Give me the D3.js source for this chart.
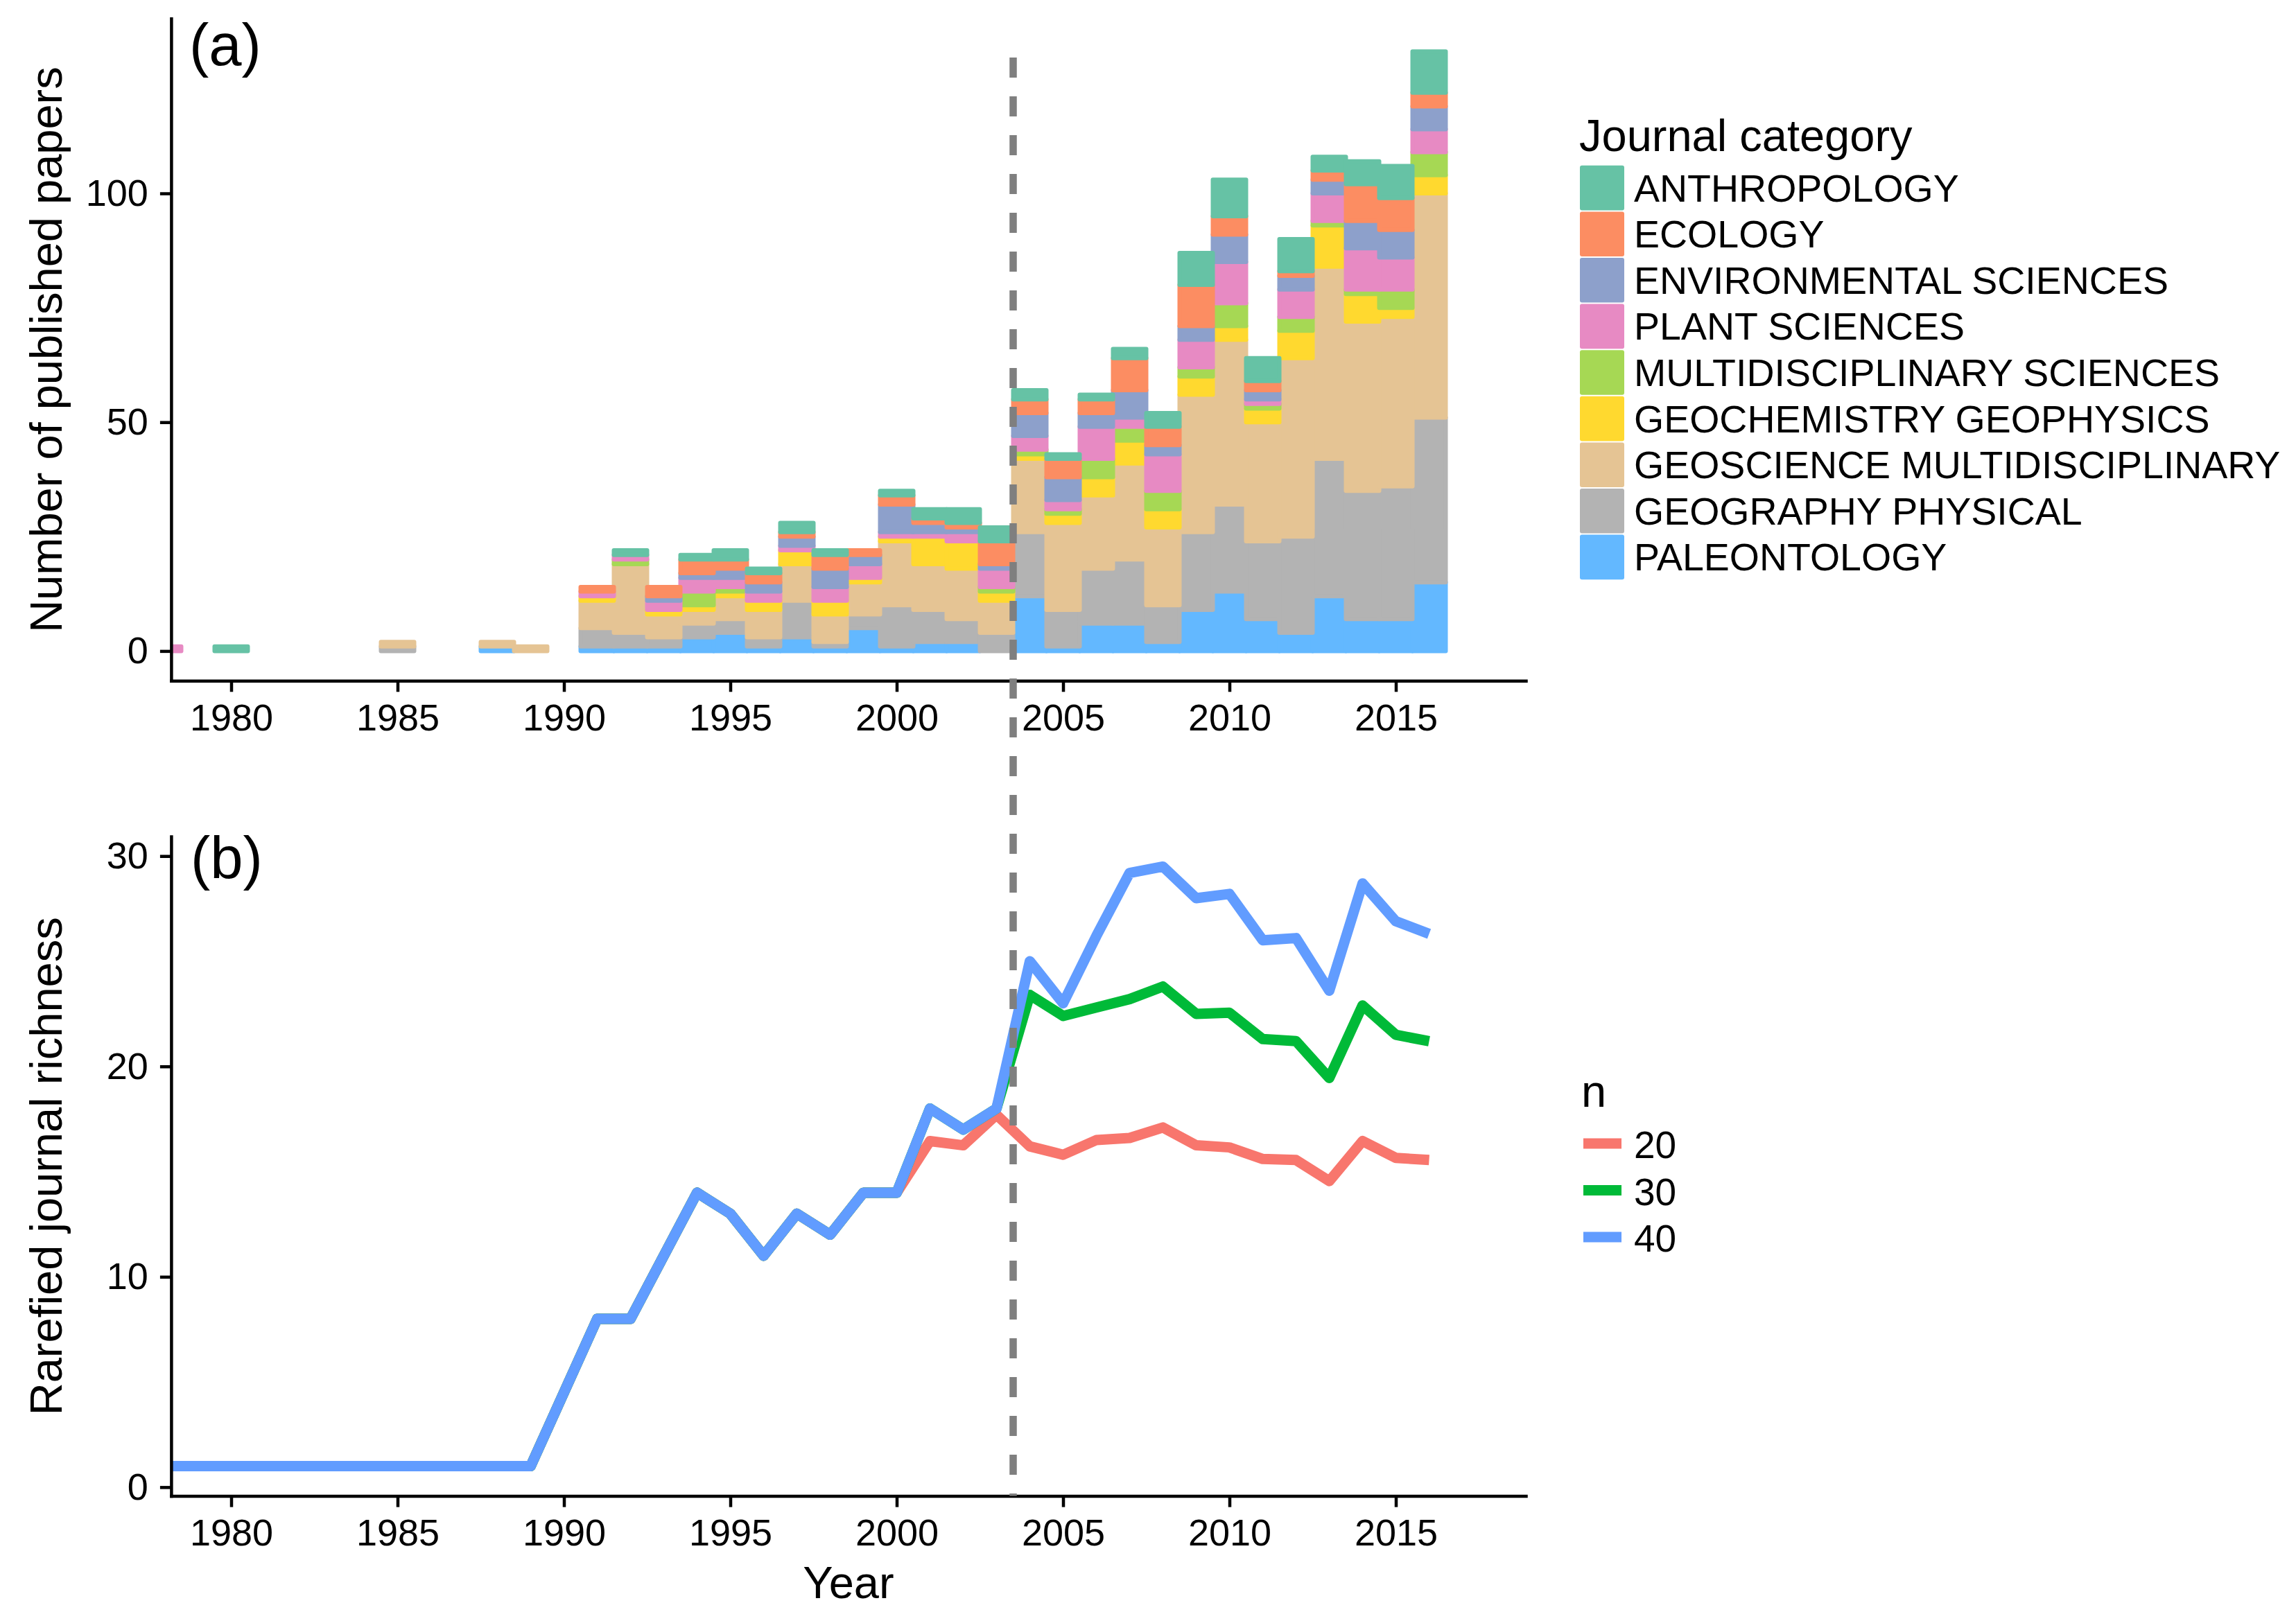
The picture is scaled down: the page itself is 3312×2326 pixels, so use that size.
<!DOCTYPE html>
<head>
  <meta charset="utf-8">
  <script src="https://cdnjs.cloudflare.com/ajax/libs/d3/7.8.5/d3.min.js"></script>
  <style>
    body { margin: 0; background: #fff; }
    text { font-family: "Liberation Sans", Arial, Helvetica, sans-serif; fill: #000; }
  </style>
</head>
<body>

<svg width="3312" height="2326"></svg>

<script type="text/javascript">
// ---- data (panel a: papers per year and journal category) ----
var barYears = [1978, 1980, 1985, 1988, 1989, 1991, 1992, 1993, 1994, 1995, 1996, 1997, 1998, 1999, 2000,
                2001, 2002, 2003, 2004, 2005, 2006, 2007, 2008, 2009, 2010, 2011, 2012, 2013, 2014, 2015, 2016];

var paleontology  = [0, 0, 0, 1, 0, 1, 1, 1, 3, 4, 1, 3, 1, 5, 1, 2, 2, 0, 12, 1, 6, 6, 2, 9, 13, 7, 4, 12, 7, 7, 15];
var geographyPhys = [0, 0, 1, 0, 0, 4, 3, 2, 3, 3, 2, 8, 1, 3, 9, 7, 5, 4, 14, 8, 12, 14, 8, 17, 19, 17, 21, 30, 28, 29, 36];
var geoscienceMul = [0, 0, 1, 1, 1, 6, 15, 5, 3, 5, 6, 8, 6, 7, 14, 10, 11, 7, 16, 19, 16, 21, 17, 30, 36, 26, 39, 42, 37, 37, 49];
var geochemistry  = [0, 0, 0, 0, 0, 1, 0, 1, 1, 1, 2, 3, 3, 1, 1, 6, 6, 2, 1, 2, 4, 5, 4, 4, 3, 3, 6, 9, 6, 2, 4];
var multidiscSci  = [0, 0, 0, 0, 0, 0, 1, 0, 3, 1, 0, 0, 0, 0, 0, 0, 0, 1, 1, 1, 4, 3, 4, 2, 5, 1, 3, 1, 1, 4, 5];
var plantSci      = [1, 0, 0, 0, 0, 1, 1, 2, 3, 2, 2, 1, 3, 3, 1, 1, 2, 4, 3, 2, 7, 2, 8, 6, 9, 1, 6, 6, 9, 7, 5];
var environSci    = [0, 0, 0, 0, 0, 0, 0, 1, 1, 2, 2, 2, 4, 2, 6, 2, 1, 1, 5, 5, 3, 6, 2, 3, 6, 2, 3, 3, 6, 6, 5];
var ecology       = [0, 0, 0, 0, 0, 1, 0, 2, 3, 2, 2, 1, 3, 1, 2, 1, 1, 5, 3, 4, 3, 7, 4, 9, 4, 2, 1, 2, 8, 7, 3];
var anthropology  = [0, 1, 0, 0, 0, 0, 1, 0, 1, 2, 1, 2, 1, 0, 1, 2, 3, 3, 2, 1, 1, 2, 3, 7, 8, 5, 7, 3, 5, 7, 9];

// legend order (top of stack first)
var categories = ["ANTHROPOLOGY", "ECOLOGY", "ENVIRONMENTAL SCIENCES", "PLANT SCIENCES",
                  "MULTIDISCIPLINARY SCIENCES", "GEOCHEMISTRY GEOPHYSICS",
                  "GEOSCIENCE MULTIDISCIPLINARY", "GEOGRAPHY PHYSICAL", "PALEONTOLOGY"];
var categoryColors = ["#66C2A5", "#FC8D62", "#8DA0CB", "#E78AC3", "#A6D854", "#FFD92F",
                      "#E5C494", "#B3B3B3", "#63B8FF"];
var categoryValues = [anthropology, ecology, environSci, plantSci, multidiscSci, geochemistry,
                      geoscienceMul, geographyPhys, paleontology];

// ---- data (panel b: rarefied journal richness) ----
var lineYears = [1978, 1979, 1980, 1981, 1982, 1983, 1984, 1985, 1986, 1987, 1988, 1989, 1991, 1992,
                 1994, 1995, 1996, 1997, 1998, 1999, 2000, 2001, 2002, 2003, 2004, 2005, 2006, 2007,
                 2008, 2009, 2010, 2011, 2012, 2013, 2014, 2015, 2016];
var rich20 = [1, 1, 1, 1, 1, 1, 1, 1, 1, 1, 1, 1, 8, 8, 14, 13, 11, 13, 12, 14, 14,
              16.45, 16.25, 17.7, 16.2, 15.8, 16.5, 16.6, 17.1, 16.25, 16.15, 15.6, 15.55, 14.55, 16.45, 15.65, 15.55];
var rich30 = [1, 1, 1, 1, 1, 1, 1, 1, 1, 1, 1, 1, 8, 8, 14, 13, 11, 13, 12, 14, 14,
              18, 17, 18, 23.4, 22.4, 22.8, 23.2, 23.8, 22.5, 22.55, 21.3, 21.2, 19.45, 22.9, 21.5, 21.2];
var rich40 = [1, 1, 1, 1, 1, 1, 1, 1, 1, 1, 1, 1, 8, 8, 14, 13, 11, 13, 12, 14, 14,
              18, 17, 18, 25, 23, 26.2, 29.2, 29.5, 28, 28.2, 26, 26.1, 23.6, 28.7, 26.9, 26.3];
var nLabels = ["20", "30", "40"];
var nColors = ["#F8766D", "#00BA38", "#619CFF"];
var nValues = [rich20, rich30, rich40];

var yearTicks = [1980, 1985, 1990, 1995, 2000, 2005, 2010, 2015];
var papersTicks = [0, 50, 100];
var richTicks = [0, 10, 20, 30];
var breakYear = 2003.5;

// ---- layout ----
var left = 246.9, right = 2201;
var aTop = 26.8, aBottom = 982.3;
var bTop = 1207, bBottom = 2158.6;

var svg = d3.select("svg");

var x = d3.scaleLinear().domain([1978.196, 2018.906]).range([left, right]);
var ya = d3.scaleLinear().domain([-6.5, 138.2]).range([aBottom, aTop]);
var yb = d3.scaleLinear().domain([-0.42, 30.93]).range([bBottom, bTop]);

// clip paths so the 1978 values stay inside the panels
var defs = svg.append("defs");
defs.append("clipPath").attr("id", "clipA").append("rect")
  .attr("x", left).attr("y", 0).attr("width", right - left).attr("height", aBottom);
defs.append("clipPath").attr("id", "clipB").append("rect")
  .attr("x", left).attr("y", bTop - 40).attr("width", right - left).attr("height", bBottom - bTop + 40);

// ---- panel a: stacked bars ----
var table = barYears.map(function(yr, i) {
  var row = { year: yr };
  categories.forEach(function(c, j) { row[c] = categoryValues[j][i]; });
  return row;
});
var stackKeys = categories.slice().reverse();   // paleontology at the bottom
var series = d3.stack().keys(stackKeys)(table);
var color = d3.scaleOrdinal().domain(categories).range(categoryColors);

var barsG = svg.append("g").attr("clip-path", "url(#clipA)");
barsG.selectAll("g.layer")
  .data(series)
  .enter().append("g")
    .attr("class", "layer")
    .attr("fill", function(d) { return color(d.key); })
    .attr("stroke", function(d) { return color(d.key); })
  .selectAll("rect")
  .data(function(d) { return d.filter(function(p) { return p[1] > p[0]; }); })
  .enter().append("rect")
    .attr("x", function(d) { return x(d.data.year - 0.5); })
    .attr("width", function(d) { return x(d.data.year + 0.5) - x(d.data.year - 0.5); })
    .attr("y", function(d) { return ya(d[1]); })
    .attr("height", function(d) { return ya(d[0]) - ya(d[1]); })
    .attr("stroke-width", 6)
    .attr("stroke-linejoin", "round");

// ---- panel b: lines ----
var line = d3.line()
  .x(function(d) { return x(d[0]); })
  .y(function(d) { return yb(d[1]); });

var linesG = svg.append("g").attr("clip-path", "url(#clipB)");
nValues.forEach(function(vals, k) {
  linesG.append("path")
    .datum(lineYears.map(function(yr, i) { return [yr, vals[i]]; }))
    .attr("d", line)
    .attr("fill", "none")
    .attr("stroke", nColors[k])
    .attr("stroke-width", 15)
    .attr("stroke-linejoin", "round");
});

// ---- axes ----
function styleAxis(g) {
  g.select(".domain").attr("stroke", "#000").attr("stroke-width", 4.5).attr("stroke-linecap", "square");
  g.selectAll(".tick line").attr("stroke", "#000").attr("stroke-width", 4.5);
  g.selectAll(".tick text").attr("font-size", 54).attr("fill", "#000")
    .style("font-family", "'Liberation Sans', Arial, Helvetica, sans-serif");
}

var xAxis = d3.axisBottom(x).tickValues(yearTicks).tickFormat(d3.format("d"))
  .tickSize(16).tickSizeOuter(0).tickPadding(17);

svg.append("g").attr("transform", "translate(0," + aBottom + ")").call(xAxis).call(styleAxis);
svg.append("g").attr("transform", "translate(0," + bBottom + ")").call(xAxis).call(styleAxis);

svg.append("g").attr("transform", "translate(" + left + ",0)")
  .call(d3.axisLeft(ya).tickValues(papersTicks).tickSize(16).tickSizeOuter(0).tickPadding(17))
  .call(styleAxis);
svg.append("g").attr("transform", "translate(" + left + ",0)")
  .call(d3.axisLeft(yb).tickValues(richTicks).tickSize(16).tickSizeOuter(0).tickPadding(17))
  .call(styleAxis);

// axis titles
svg.append("text")
  .attr("transform", "translate(89," + (aTop + aBottom) / 2 + ") rotate(-90)")
  .attr("text-anchor", "middle").attr("font-size", 65)
  .text("Number of published papers");
svg.append("text")
  .attr("transform", "translate(89," + (bTop + bBottom) / 2 + ") rotate(-90)")
  .attr("text-anchor", "middle").attr("font-size", 65)
  .text("Rarefied journal richness");
svg.append("text")
  .attr("x", (left + right) / 2).attr("y", 2306)
  .attr("text-anchor", "middle").attr("font-size", 65)
  .text("Year");

// panel tags
svg.append("text").attr("x", 273).attr("y", 94).attr("font-size", 85).text("(a)");
svg.append("text").attr("x", 275).attr("y", 1267).attr("font-size", 85).text("(b)");

// dashed break line across both panels
svg.append("line")
  .attr("x1", x(breakYear)).attr("x2", x(breakYear))
  .attr("y1", 83).attr("y2", bBottom)
  .attr("stroke", "#7F7F7F")
  .attr("stroke-width", 10.5)
  .attr("stroke-dasharray", "29 27");

// ---- legend a ----
var legA = svg.append("g");
legA.append("text").attr("x", 2278).attr("y", 218).attr("font-size", 65).text("Journal category");
var keyH = 66.6;
var legItems = legA.selectAll("g.item")
  .data(categories)
  .enter().append("g")
    .attr("class", "item")
    .attr("transform", function(d, i) { return "translate(2278," + (237.8 + i * keyH) + ")"; });
legItems.append("rect")
  .attr("x", 1).attr("y", 1).attr("width", 64).attr("height", keyH - 2).attr("rx", 3)
  .attr("fill", function(d) { return color(d); });
legItems.append("text")
  .attr("x", 79).attr("y", keyH / 2 + 19.5)
  .attr("font-size", 55.5)
  .text(function(d) { return d; });

// ---- legend b ----
var legB = svg.append("g");
legB.append("text").attr("x", 2281).attr("y", 1597).attr("font-size", 65).text("n");
nLabels.forEach(function(lab, k) {
  var cy = 1650 + k * 67.5;
  legB.append("line")
    .attr("x1", 2284).attr("x2", 2339).attr("y1", cy).attr("y2", cy)
    .attr("stroke", nColors[k]).attr("stroke-width", 15);
  legB.append("text").attr("x", 2357).attr("y", cy + 21).attr("font-size", 55).text(lab);
});
</script>
</body>
</html>
